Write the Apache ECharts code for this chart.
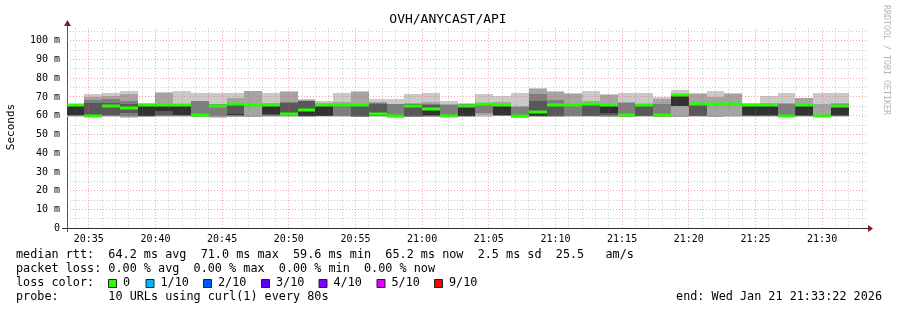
<!DOCTYPE html>
<html><head><meta charset="utf-8">
<script src="https://cdn.jsdelivr.net/npm/echarts@6/dist/echarts.min.js"></script>
<style>html,body{margin:0;padding:0;background:#fff}#c{width:897px;height:310px}</style>
</head><body><div id="c"></div>
<script>
const chartTitle = 'OVH/ANYCAST/API';
const yAxisName = 'Seconds';
const rangeStart = '20:33:22';
const rangeEnd = '21:33:22';
const firstStep = '20:33:20';
const stepSeconds = 80;
const xTickLabels = ['20:35','20:40','20:45','20:50','20:55','21:00','21:05','21:10','21:15','21:20','21:25','21:30'];
const yMax = 107.3;

// sorted per-step ping values (ms), ping1 = fastest ... ping10 = slowest
const ping1 = [59.2,59.2,59.2,59.0,59.1,59.3,59.5,59.2,59.0,59.2, 59.2,59.3,59.5,59.3,59.5,59.3,59.1,59.5,59.0,59.1, 59.2,59.2,59.3,59.3,59.6,59.0,59.2,59.3,59.4,59.3, 59.3,59.2,59.4,59.3,59.1,59.4,59.1,59.5,59.4,59.4, 59.2,59.4,59.3,59.5];
const ping2 = [59.6,59.4,59.6,59.5,59.4,59.6,59.8,59.5,59.3,59.5, 59.5,59.6,59.8,59.5,59.7,59.6,59.3,59.7,59.2,59.3, 59.5,59.4,59.5,60.5,59.8,59.2,59.4,59.5,59.6,59.6, 59.5,59.4,59.6,59.5,59.5,59.6,59.4,59.7,59.6,59.6, 59.4,59.6,59.6,59.7];
const ping3 = [60.0,59.6,60.0,60.0,59.6,60.0,60.0,59.8,59.6,59.8, 65.5,59.9,60.1,59.7,59.9,59.9,59.5,59.9,59.4,59.5, 59.8,59.6,59.7,61.5,60.0,59.4,59.6,59.7,59.8,59.8, 59.7,59.6,59.8,59.7,65.2,59.8,65.6,65.6,59.8,59.8, 59.6,59.8,59.8,59.9];
const ping4 = [60.3,59.8,60.3,61.3,59.8,60.5,60.2,60.0,65.0,60.2, 65.6,60.2,60.4,59.8,60.0,65.5,59.7,60.1,59.6,59.7, 60.1,59.8,59.9,65.6,60.2,59.6,59.8,60.0,65.4,60.0, 60.3,59.8,60.0,59.9,65.3,60.0,65.8,65.8,60.0,60.0, 59.8,60.0,59.9,60.1];
const ping5 = [60.5,60.0,64.8,63.8,60.0,62.5,60.4,60.2,65.2,60.5, 65.7,61.0,60.7,59.9,60.1,65.6,65.4,60.3,59.8,65.0, 60.4,60.0,60.1,65.8,60.5,59.8,60.0,65.3,65.6,65.8, 61.5,60.0,65.3,60.0,65.4,65.7,65.9,65.9,60.2,60.2, 60.0,60.2,60.0,60.3];
const ping6 = [65.8,60.2,65.6,64.6,65.5,65.7,65.5,60.6,65.5,61.0, 65.9,65.7,61.3,63.5,66.0,65.8,65.6,61.2,60.0,65.5, 64.0,60.2,65.5,66.2,65.8,60.0,62.5,65.6,65.8,66.2, 65.8,60.3,65.6,60.3,70.8,66.2,66.1,66.1,65.5,65.8, 60.2,65.6,60.2,65.6];
const ping7 = [66.0,67.0,67.0,66.0,65.8,66.0,65.8,61.0,65.8,66.0, 66.0,66.0,67.0,67.7,66.2,66.0,65.8,66.5,60.2,66.0, 65.5,60.4,65.8,66.4,66.0,60.2,68.0,66.0,66.0,66.5, 66.0,60.6,65.9,60.6,71.1,66.4,66.3,66.3,65.8,66.0, 60.4,66.0,60.4,65.9];
const ping8 = [66.1,68.5,69.0,68.0,66.0,66.3,66.0,67.8,66.0,66.5, 66.2,66.3,67.2,68.0,66.5,66.3,66.0,67.0,66.2,66.5, 66.5,65.7,66.0,66.6,66.5,64.8,71.6,68.5,66.2,67.0, 66.2,67.0,66.2,66.2,71.3,66.6,66.6,66.6,66.0,66.5, 66.2,66.5,60.6,66.2];
const ping9 = [66.2,70.2,70.5,71.5,66.3,72.2,66.3,68.0,66.3,69.5, 73.0,66.6,72.5,68.4,67.0,67.1,72.6,67.5,66.5,67.0, 67.5,66.5,66.3,67.0,67.5,65.3,74.5,72.7,71.8,67.6, 71.2,67.5,66.5,69.0,71.5,71.8,69.8,71.8,66.3,67.0, 66.7,69.3,66.2,66.6];
const ping10 = [66.4,71.6,72.3,73.2,66.6,72.5,73.3,72.3,72.3,72.2, 73.3,72.3,73.0,68.9,68.0,72.1,73.0,68.9,68.9,71.6, 72.1,67.9,66.7,71.6,70.4,72.0,74.9,73.0,72.1,73.0, 71.6,72.0,72.0,69.8,73.7,72.1,73.0,72.1,66.7,70.4, 72.1,69.6,72.1,72.1];
const medianRtt = [65.8,59.8,65.3,64.2,65.7,65.7,65.5,60.4,65.3,66.2, 65.8,65.8,61.1,63.1,65.7,65.7,65.7,60.9,59.6,65.3, 63.8,60.0,65.4,66.1,65.8,59.8,62.2,65.5,65.7,66.1, 65.7,60.3,65.5,60.2,71.0,66.0,66.0,66.0,65.5,65.8, 59.8,65.5,60.1,65.2];

const legendLines = [
  'median rtt:  64.2 ms avg  71.0 ms max  59.6 ms min  65.2 ms now  2.5 ms sd  25.5   am/s',
  'packet loss: 0.00 % avg  0.00 % max  0.00 % min  0.00 % now',
  'loss color:',
  'probe:       10 URLs using curl(1) every 80s'
];
const lossLabels = ['0','1/10','2/10','3/10','4/10','5/10','9/10'];
const lossColors = ['#26ff00','#00b8ff','#0059ff','#5e00ff','#7e00ff','#dd00ff','#ff0000'];
const endText = 'end: Wed Jan 21 21:33:22 2026';
const smokeShades = ['#cacaca','#a4a4a4','#7e7e7e','#585858','#323232'];

const toSec = s => { const p = s.split(':').map(Number); return p[0]*3600 + p[1]*60 + (p[2]||0); };
const fmt = v => { const h = Math.floor(v/3600), m = Math.floor((v%3600)/60); return String(h).padStart(2,'0')+':'+String(m).padStart(2,'0'); };
const xMin = toSec(rangeStart), xMax = toSec(rangeEnd);
const pings = [ping1,ping2,ping3,ping4,ping5,ping6,ping7,ping8,ping9,ping10];

const smokeData = medianRtt.map((m, k) => [toSec(firstStep) + k*stepSeconds].concat(pings.map(p => p[k]), [m]));

// grid lines (axis decoration): [orientation 0=vertical 1=horizontal, value, major]
const gridData = [];
for (let t = Math.ceil(xMin/60)*60; t < xMax; t += 60) gridData.push([0, t, (t % 300 === 0) ? 1 : 0]);
for (let v = 5; v < yMax; v += 5) gridData.push([1, v, (v % 10 === 0) ? 1 : 0]);

const chart = echarts.init(document.getElementById('c'), null, {renderer: 'canvas'});
const mono = '"DejaVu Sans Mono", monospace';

const graphics = [
  {type:'text', x:448, y:20, style:{text:chartTitle, font:'13px '+mono, fill:'#000', align:'center', verticalAlign:'middle'}},
  {type:'text', x:11, y:127, rotation:Math.PI/2, style:{text:yAxisName, font:'11px '+mono, fill:'#000', align:'center', verticalAlign:'middle'}},
  {type:'text', x:886, y:5, rotation:-Math.PI/2, style:{text:'RRDTOOL / TOBI OETIKER', font:'8.3px '+mono, fill:'#b4b4b4', align:'left', verticalAlign:'middle'}},
  // axis extensions and arrows
  {type:'line', shape:{x1:62, y1:228.5, x2:871, y2:228.5}, style:{stroke:'#2c2c2c', lineWidth:1}},
  {type:'line', shape:{x1:67.5, y1:232, x2:67.5, y2:23}, style:{stroke:'#555', lineWidth:1}},
  {type:'polygon', shape:{points:[[868,225],[868,232],[873,228.5]]}, style:{fill:'#7f1f1f'}},
  {type:'polygon', shape:{points:[[64,26],[71,26],[67.5,20]]}, style:{fill:'#7f1f1f'}},
  {type:'text', x:882, y:297, style:{text:endText, font:'11.8px '+mono, fill:'#000', align:'right', verticalAlign:'middle'}}
];
const lineY = [255, 269, 283.4, 297];
legendLines.forEach((t, i) => graphics.push({type:'text', x:16, y:lineY[i], style:{text:t, font:'11.8px '+mono, fill:'#000', align:'left', verticalAlign:'middle'}}));
const boxX = [108, 145.5, 203, 261, 318.5, 376.5, 434];
lossLabels.forEach((l, i) => {
  graphics.push({type:'rect', shape:{x:boxX[i]+0.5, y:279.5, width:8, height:8}, style:{fill:lossColors[i], stroke:'#222', lineWidth:1}});
  graphics.push({type:'text', x:boxX[i]+15, y:283.4, style:{text:l, font:'11.8px '+mono, fill:'#000', align:'left', verticalAlign:'middle'}});
});

chart.setOption({
  animation: false,
  backgroundColor: '#fff',
  grid: {left:67, top:27, width:800, height:201.2, containLabel:false},
  xAxis: {
    type:'value', min:xMin, max:xMax,
    axisLine:{show:false}, axisTick:{show:false}, splitLine:{show:false},
    axisLabel:{customValues: xTickLabels.map(toSec), formatter: v => fmt(v), fontFamily:'DejaVu Sans Mono', fontSize:10, color:'#000', margin:6}
  },
  yAxis: {
    type:'value', min:0, max:yMax, interval:10,
    axisLine:{show:false}, axisTick:{show:false}, splitLine:{show:false},
    axisLabel:{formatter: v => v === 0 ? '0' : (v > 100.5 ? '' : Math.round(v) + ' m'), fontFamily:'DejaVu Sans Mono', fontSize:10, color:'#000', margin:7}
  },
  graphic: graphics,
  series: [
    {
      type:'custom', name:'smoke', z:2, clip:true, data: smokeData,
      encode:{x:0, y:11},
      renderItem: (params, api) => {
        const t0 = api.value(0), t1 = t0 + stepSeconds;
        const children = [];
        for (let L = 0; L < 5; L++) {
          const lo = api.value(1+L), hi = api.value(10-L);
          const a = api.coord([t0, hi]), b = api.coord([t1, lo]);
          const x0 = Math.round(a[0]), x1 = Math.round(b[0]);
          const y0 = Math.round(a[1]), y1 = Math.round(b[1]);
          children.push({type:'rect', shape:{x:x0, y:y0, width:x1-x0, height:Math.max(1, y1-y0)}, style:{fill:smokeShades[L]}});
        }
        const m = api.coord([t0, api.value(11)]);
        const e = api.coord([t1, api.value(11)]);
        const x0 = Math.round(m[0]), x1 = Math.round(e[0]);
        children.push({type:'rect', shape:{x:x0, y:Math.round(m[1])-1.5, width:x1-x0, height:3}, style:{fill:lossColors[0]}});
        return {type:'group', children};
      }
    },
    {
      type:'custom', name:'grid', z:3, silent:true, data: gridData,
      encode:{x:1, y:1},
      renderItem: (params, api) => {
        const o = api.value(0), v = api.value(1), major = api.value(2);
        let p1, p2;
        if (o === 0) { p1 = api.coord([v, 0]); p2 = api.coord([v, yMax]); p1[0] = p2[0] = Math.floor(p1[0]) + 0.5; }
        else { p1 = api.coord([xMin, v]); p2 = api.coord([xMax, v]); p1[1] = p2[1] = Math.floor(p1[1]) + 0.5; }
        return {type:'line', shape:{x1:p1[0], y1:p1[1], x2:p2[0], y2:p2[1]},
          style:{stroke: major ? 'rgba(230,90,90,0.55)' : 'rgba(120,120,120,0.4)', lineWidth:1, lineDash:[1,2]}};
      }
    }
  ]
});
</script></body></html>
